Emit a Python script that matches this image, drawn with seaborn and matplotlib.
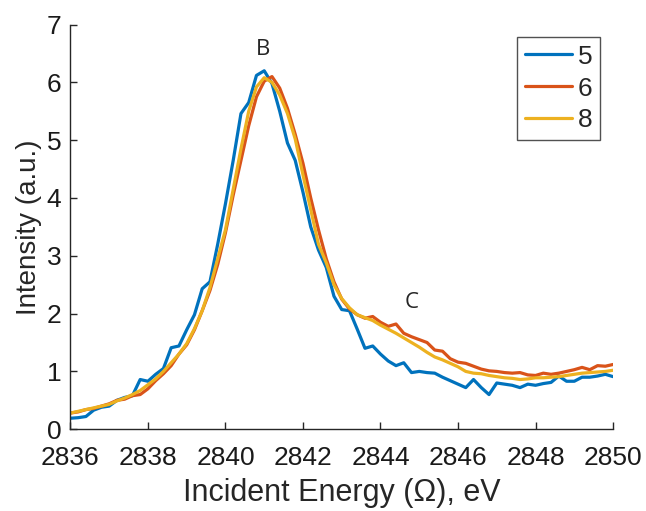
import matplotlib
matplotlib.use("Agg")
import matplotlib.pyplot as plt
import seaborn as sns
import pandas as pd

energy = [2836.0, 2836.2, 2836.4, 2836.6, 2836.8, 2837.0, 2837.2, 2837.4, 2837.6, 2837.8,
          2838.0, 2838.2, 2838.4, 2838.6, 2838.8, 2839.0, 2839.2, 2839.4, 2839.6, 2839.8,
          2840.0, 2840.2, 2840.4, 2840.6, 2840.8, 2841.0, 2841.2, 2841.4, 2841.6, 2841.8,
          2842.0, 2842.2, 2842.4, 2842.6, 2842.8, 2843.0, 2843.2, 2843.4, 2843.6, 2843.8,
          2844.0, 2844.2, 2844.4, 2844.6, 2844.8, 2845.0, 2845.2, 2845.4, 2845.6, 2845.8,
          2846.0, 2846.2, 2846.4, 2846.6, 2846.8, 2847.0, 2847.2, 2847.4, 2847.6, 2847.8,
          2848.0, 2848.2, 2848.4, 2848.6, 2848.8, 2849.0, 2849.2, 2849.4, 2849.6, 2849.8,
          2850.0]

series_5 = [0.19, 0.20, 0.22, 0.33, 0.38, 0.40, 0.50, 0.55, 0.58, 0.86,
            0.83, 0.95, 1.05, 1.41, 1.44, 1.72, 1.98, 2.43, 2.55, 3.20,
            3.90, 4.65, 5.46, 5.65, 6.12, 6.20, 5.98, 5.50, 4.95, 4.65,
            4.10, 3.50, 3.10, 2.80, 2.30, 2.07, 2.05, 1.73, 1.40, 1.44,
            1.30, 1.18, 1.10, 1.15, 0.98, 1.00, 0.98, 0.97, 0.90, 0.84,
            0.78, 0.72, 0.86, 0.72, 0.60, 0.80, 0.78, 0.76, 0.72, 0.78,
            0.76, 0.79, 0.81, 0.92, 0.83, 0.83, 0.90, 0.90, 0.92, 0.95,
            0.91]

series_6 = [0.28, 0.30, 0.34, 0.36, 0.40, 0.44, 0.50, 0.52, 0.58, 0.60,
            0.70, 0.84, 0.96, 1.10, 1.30, 1.46, 1.72, 2.05, 2.40, 2.85,
            3.40, 4.05, 4.65, 5.25, 5.75, 6.02, 6.10, 5.90, 5.55, 5.10,
            4.60, 4.00, 3.45, 2.95, 2.55, 2.25, 2.08, 1.98, 1.92, 1.95,
            1.85, 1.78, 1.82, 1.66, 1.60, 1.55, 1.50, 1.37, 1.35, 1.22,
            1.16, 1.14, 1.09, 1.04, 1.01, 1.00, 0.98, 0.97, 0.98, 0.94,
            0.93, 0.97, 0.95, 0.97, 1.00, 1.03, 1.07, 1.03, 1.10, 1.09,
            1.12]

series_8 = [0.28, 0.31, 0.34, 0.37, 0.40, 0.43, 0.49, 0.54, 0.60, 0.67,
            0.77, 0.87, 1.00, 1.15, 1.30, 1.48, 1.74, 2.05, 2.45, 2.95,
            3.45, 4.15, 4.85, 5.50, 5.92, 6.08, 6.00, 5.78, 5.46, 5.02,
            4.40, 3.80, 3.20, 2.88, 2.50, 2.26, 2.10, 1.98, 1.93, 1.88,
            1.80, 1.73, 1.66, 1.58, 1.50, 1.42, 1.33, 1.25, 1.20, 1.14,
            1.08, 1.00, 0.97, 0.96, 0.93, 0.91, 0.89, 0.88, 0.86, 0.87,
            0.89, 0.89, 0.90, 0.91, 0.93, 0.95, 0.97, 0.98, 0.99, 1.00,
            1.02]

labels = ["5", "6", "8"]
colors = ["#0072BD", "#D95319", "#EDB120"]
x_ticks = [2836, 2838, 2840, 2842, 2844, 2846, 2848, 2850]
y_ticks = [0, 1, 2, 3, 4, 5, 6, 7]

df = pd.concat([
    pd.DataFrame({"Energy": energy, "Intensity": s, "Series": lab})
    for s, lab in zip([series_5, series_6, series_8], labels)
])

sns.set_style("white")
plt.rcParams["font.family"] = ["Liberation Sans", "DejaVu Sans"]

fig = plt.figure(figsize=(6.46, 5.11), dpi=100)
ax = fig.add_axes([0.109, 0.160, 0.840, 0.792])

sns.lineplot(data=df, x="Energy", y="Intensity", hue="Series",
             palette=dict(zip(labels, colors)), hue_order=labels,
             linewidth=2.3, ax=ax, sort=False)

ax.set_xlim(2836, 2850)
ax.set_ylim(0, 7)
ax.set_xticks(x_ticks)
ax.set_yticks(y_ticks)
ax.tick_params(axis="both", which="major", bottom=True, left=True,
               direction="in", length=5, width=1, colors="#262626",
               labelsize=19, labelcolor="#1a1a1a")
ax.tick_params(axis="x", pad=12)
ax.tick_params(axis="y", pad=6.5)
sns.despine(ax=ax)
for sp in ["left", "bottom"]:
    ax.spines[sp].set_color("#262626")
    ax.spines[sp].set_linewidth(1)

ax.set_xlabel("Incident Energy (\u03a9), eV", fontsize=22, color="#262626", labelpad=6)
ax.set_ylabel("Intensity (a.u.)", fontsize=20, color="#262626", labelpad=3)

ax.text(2840.97, 6.57, "B", fontsize=16, family="Open Sans", ha="center", va="center")
ax.text(2844.81, 2.2, "C", fontsize=16, family="Open Sans", ha="center", va="center")

leg = ax.legend(loc="upper right", bbox_to_anchor=(0.976, 0.97), fontsize=19,
                frameon=True, fancybox=False, edgecolor="#262626",
                handlelength=1.8, handletextpad=0.2, borderpad=0.3,
                labelspacing=0.3, borderaxespad=0)
leg.get_frame().set_linewidth(1)
for line in leg.get_lines():
    line.set_linewidth(2.3)

fig.savefig("out.png", dpi=100)
